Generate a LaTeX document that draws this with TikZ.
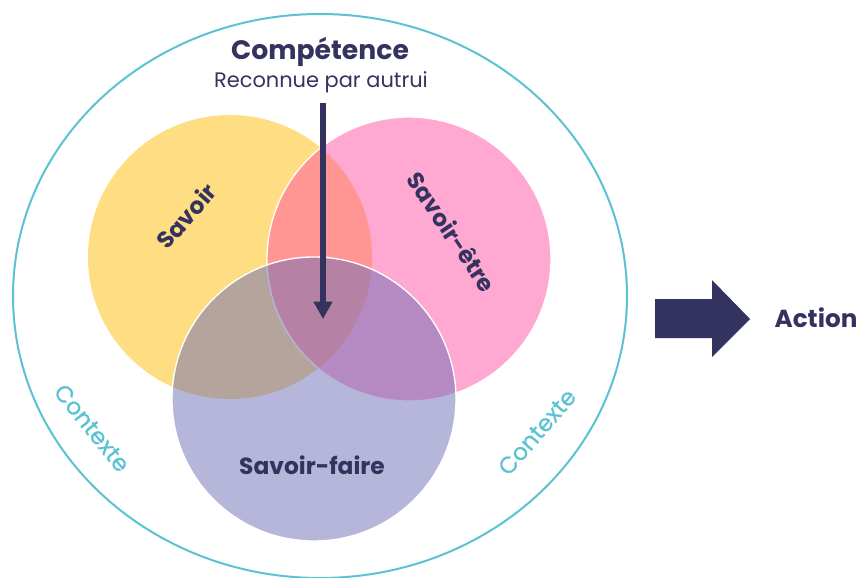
\documentclass[tikz,border=0pt]{standalone}
\usepackage{fontspec}
\setmainfont{Poppins}
\newfontfamily\ctxfont{Poppins}[FakeBold=0.6]
\usetikzlibrary{arrows.meta}
\definecolor{navy}{HTML}{34335F}
\definecolor{ctxblue}{HTML}{5BC2D3}
\definecolor{savcol}{HTML}{FFDD83}
\definecolor{etrecol}{HTML}{FF51A5}
\definecolor{fairecol}{HTML}{6D6DB5}

\begin{document}
\begin{tikzpicture}[x=0.75pt,y=-0.75pt,
	title/.style={font=\bfseries\fontsize{20}{24}\selectfont, text=navy},
	label/.style={font=\bfseries\fontsize{17.5}{20}\selectfont, text=navy},
	ctx/.style={font=\ctxfont\fontsize{17.5}{20}\selectfont, text=ctxblue},
	set/.style={fill opacity=.5, draw=white, line width=1pt}]
	\useasboundingbox (0,0) rectangle (860,578);
	\coordinate (s) at (230,257);
	\coordinate (e) at (409,259);
	\coordinate (f) at (314,399);
	\draw[ctxblue, line width=1.5pt] (320,296) ellipse (307 and 282);
	\fill[savcol] (s) circle (142);
	\filldraw[set, fill=etrecol] (e) circle (142);
	\filldraw[set, fill=fairecol] (f) circle (142);
	\node[title] (comp) at (320,52) {Compétence};
	\node[font=\fontsize{15.7}{18}\selectfont, text=navy] (reco) at (321,82) {Reconnue par autrui};
	\node[label, rotate=49] (sav) at (186,216) {Savoir};
	\node[label, rotate=-56] (etre) at (452,232) {Savoir-être};
	\node[label] (faire) at (312,465) {Savoir-faire};
	\node[ctx, rotate=-51] (ctxl) at (92,428) {Contexte};
	\node[ctx, rotate=49] (ctxr) at (537,432) {Contexte};
	\node[label, font=\bfseries\fontsize{18.5}{20}\selectfont] (act) at (816,318) {Action};
	\coordinate (top) at (323,103);
	\coordinate (core) at (323,319);
	\draw[navy, line width=4.3pt, -{Triangle[width=13.5pt,length=13pt]}] (top) -- (core);
	\fill[navy] (655,299) -- (712,299) -- (712,280) -- (750,319) -- (712,357) -- (712,338) -- (655,338) -- cycle;
\end{tikzpicture}
\end{document}
